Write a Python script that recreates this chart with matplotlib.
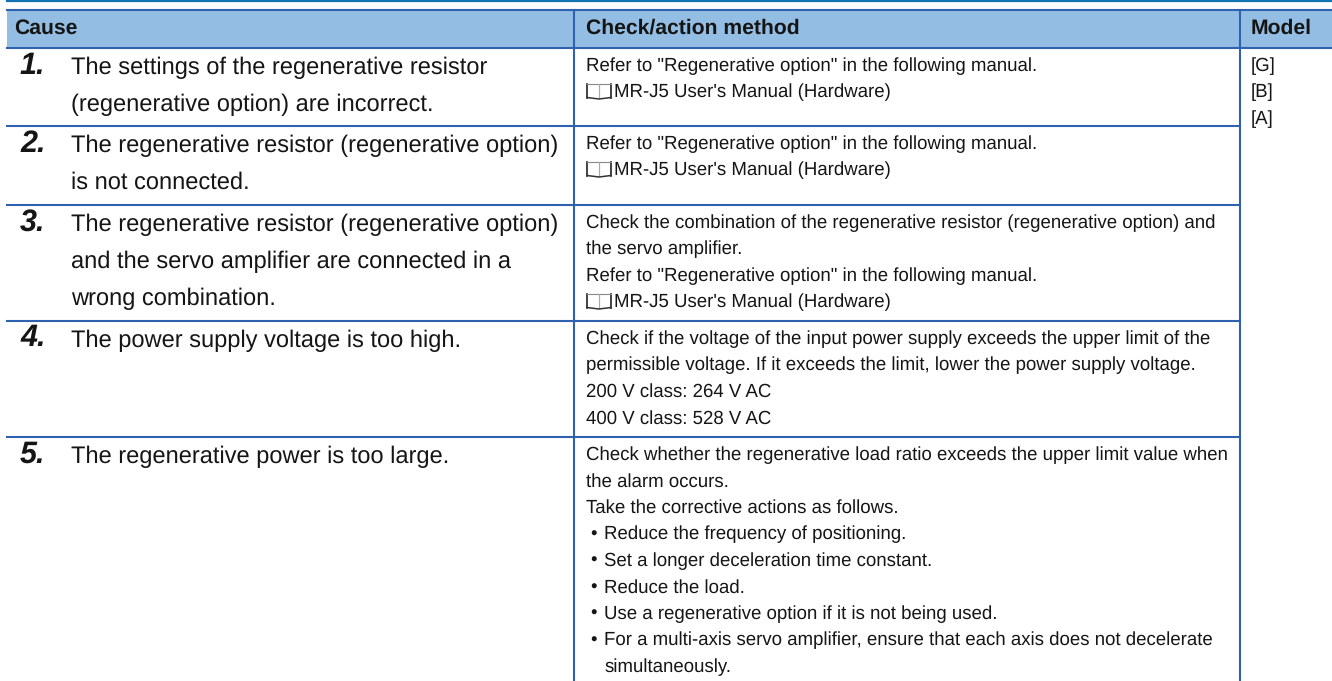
"""Alarm cause table, drawn on a pixel-sized axes."""
import matplotlib.pyplot as plt
from matplotlib.patches import Rectangle

WIDTH, HEIGHT = 1332, 681
LINE_COLOR = "#2f62ae"
TOP_RULE_COLOR = "#1272b6"
HEADER_FILL = "#93bde3"
TEXT_COLOR = "#151515"

plt.rcParams["font.family"] = ["Liberation Sans", "DejaVu Sans"]
plt.rcParams["text.hinting"] = "no_hinting"
plt.rcParams["text.hinting_factor"] = 8

HEADERS = ["Cause", "Check/action method", "Model"]
NUMBERS = ["1.", "2.", "3.", "4.", "5."]
CAUSES = [
    ["The settings of the regenerative resistor", "(regenerative option) are incorrect."],
    ["The regenerative resistor (regenerative option)", "is not connected."],
    [
        "The regenerative resistor (regenerative option)",
        "and the servo amplifier are connected in a",
        "wrong combination.",
    ],
    ["The power supply voltage is too high."],
    ["The regenerative power is too large."],
]
ACTIONS = [
    ['Refer to "Regenerative option" in the following manual.', "@MR-J5 User's Manual (Hardware)"],
    ['Refer to "Regenerative option" in the following manual.', "@MR-J5 User's Manual (Hardware)"],
    [
        "Check the combination of the regenerative resistor (regenerative option) and",
        "the servo amplifier.",
        'Refer to "Regenerative option" in the following manual.',
        "@MR-J5 User's Manual (Hardware)",
    ],
    [
        "Check if the voltage of the input power supply exceeds the upper limit of the",
        "permissible voltage. If it exceeds the limit, lower the power supply voltage.",
        "200 V class: 264 V AC",
        "400 V class: 528 V AC",
    ],
    [
        "Check whether the regenerative load ratio exceeds the upper limit value when",
        "the alarm occurs.",
        "Take the corrective actions as follows.",
        "*Reduce the frequency of positioning.",
        "*Set a longer deceleration time constant.",
        "*Reduce the load.",
        "*Use a regenerative option if it is not being used.",
        "*For a multi-axis servo amplifier, ensure that each axis does not decelerate",
        ">simultaneously.",
    ],
]
MODELS = ["[G]", "[B]", "[A]"]

ROW_TOPS = [48, 126, 205, 321, 437]
COL_X = [7, 574, 1240, 1332]
HEADER_TOP = 10
CAUSE_STEP = 37.2
ACTION_STEP = 26.5
ACTION_SIZE = 13.4


def draw_book(ax, x, baseline):
    # small open book icon in front of the manual references
    for left, right in ((x, x + 12), (x + 24, x + 12)):
        ax.plot([left, left], [baseline, baseline - 14], color="#222222", linewidth=1.2)
        ax.plot([left, right], [baseline - 14, baseline - 14], color="#888888", linewidth=0.8)
        ax.plot([right, right], [baseline - 14, baseline], color="#aaaaaa", linewidth=0.8)
    ax.plot([x, x + 12, x + 24], [baseline, baseline + 1.5, baseline], color="#333333", linewidth=1.1)


def draw_action_line(ax, x, baseline, line):
    if line[0] == "@":
        draw_book(ax, x + 1, baseline)
        x += 28
    elif line[0] == "*":
        ax.text(x + 4, baseline, "\u2022", fontsize=ACTION_SIZE, color=TEXT_COLOR, va="baseline")
        x += 18
    elif line[0] == ">":
        x += 18
    line = line.lstrip("@*>")
    ax.text(x, baseline, line, fontsize=ACTION_SIZE, color=TEXT_COLOR, va="baseline", ha="left")


def main():
    fig = plt.figure(figsize=(WIDTH / 100, HEIGHT / 100), dpi=100)
    ax = fig.add_axes([0, 0, 1, 1])
    ax.set_xlim(0, WIDTH)
    ax.set_ylim(HEIGHT, 0)
    ax.axis("off")

    ax.plot([7, WIDTH], [1, 1], color=TOP_RULE_COLOR, linewidth=1.6)
    ax.add_patch(Rectangle((7, HEADER_TOP), WIDTH - 7, ROW_TOPS[0] - HEADER_TOP, color=HEADER_FILL, linewidth=0))
    ax.plot([7, WIDTH], [HEADER_TOP, HEADER_TOP], color=LINE_COLOR, linewidth=1.5)
    ax.plot([7, WIDTH], [ROW_TOPS[0], ROW_TOPS[0]], color=LINE_COLOR, linewidth=1.5)
    for top in ROW_TOPS[1:]:
        ax.plot([7, COL_X[2]], [top, top], color=LINE_COLOR, linewidth=1.5)
    for x in COL_X[1:3]:
        ax.plot([x, x], [HEADER_TOP, HEIGHT], color=LINE_COLOR, linewidth=1.5)

    for x, label in zip([14, 586, 1251], HEADERS):
        ax.text(x, 33.5, label, fontsize=15.2, fontweight="bold", color=TEXT_COLOR, va="baseline")

    for top, number, cause, action in zip(ROW_TOPS, NUMBERS, CAUSES, ACTIONS):
        ax.text(20, top + 25.5, number, fontsize=22, fontweight="bold", style="italic", color=TEXT_COLOR, va="baseline")
        for i, line in enumerate(cause):
            ax.text(71, top + 26 + i * CAUSE_STEP, line, fontsize=17, color=TEXT_COLOR, va="baseline")
        for i, line in enumerate(action):
            draw_action_line(ax, 586, top + 23 + i * ACTION_STEP, line)

    for i, label in enumerate(MODELS):
        ax.text(1251, 71 + i * ACTION_STEP, label, fontsize=ACTION_SIZE, color=TEXT_COLOR, va="baseline")

    fig.savefig("out.png", dpi=100)
    plt.close(fig)


if __name__ == "__main__":
    main()
